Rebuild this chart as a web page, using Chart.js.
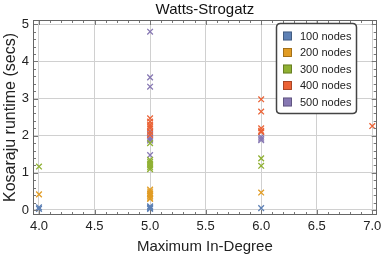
<!DOCTYPE html>
<html><head><meta charset="utf-8">
<script src="https://cdn.jsdelivr.net/npm/chart.js@4/dist/chart.umd.min.js"></script>
<style>html,body{margin:0;padding:0;background:#fff}#wrap{width:382px;height:257px;position:relative}</style>
</head><body><div id="wrap"><canvas id="c" width="382" height="257"></canvas></div>
<script>
const chartTitle = "Watts-Strogatz";
const xTitle = "Maximum In-Degree";
const yTitle = "Kosaraju runtime (secs)";
const seriesNames = ["100 nodes", "200 nodes", "300 nodes", "400 nodes", "500 nodes"];
const seriesColors = ["#5e81b5", "#e19c24", "#8fb032", "#eb6235", "#8778b3"];
const xTicks = [4.0, 4.5, 5.0, 5.5, 6.0, 6.5, 7.0];
const yTicks = [0, 1, 2, 3, 4, 5];

// [maxInDegree, runtime]
const nodes100 = [[4,0.03],[4,0.07],[5,0.03],[5,0.05],[5,0.07],[5,0.1],[6,0.05]];
const nodes200 = [[4,0.42],[5,0.3],[5,0.33],[5,0.38],[5,0.42],[5,0.45],[5,0.5],[5,0.55],[6,0.47]];
const nodes300 = [[4,1.17],[5,1.1],[5,1.15],[5,1.2],[5,1.25],[5,1.3],[5,1.35],[5,1.8],[6,1.19],[6,1.39]];
const nodes400 = [[5,2.02],[5,2.1],[5,2.2],[5,2.25],[5,2.3],[5,2.38],[5,2.47],[6,2.1],[6,2.13],[6,2.2],[6,2.65],[6,2.98],[7,2.26]];
const nodes500 = [[5,1.48],[5,1.87],[5,1.9],[5,1.95],[5,2.05],[5,2.12],[5,3.32],[5,3.57],[5,4.8],[6,1.88],[6,1.92],[6,1.97]];
const allSeries = [nodes100, nodes200, nodes300, nodes400, nodes500];

const FONT = "'Liberation Sans', Arial, sans-serif";

const framePlugin = {
  id: 'frame',
  afterDraw(chart) {
    const ctx = chart.ctx, a = chart.chartArea;
    const xs = chart.scales.x, ys = chart.scales.y;
    ctx.save();
    ctx.strokeStyle = '#777'; ctx.lineWidth = 1;
    ctx.beginPath();
    for (let i = 0; i <= 30; i++) {
      const v = 4 + i * 0.1;
      const px = Math.round(xs.getPixelForValue(v)) + 0.5;
      const len = (i % 5 === 0) ? 5 : 3;
      ctx.moveTo(px, a.bottom); ctx.lineTo(px, a.bottom - len);
      ctx.moveTo(px, a.top); ctx.lineTo(px, a.top + len);
    }
    for (let i = 0; i <= 25; i++) {
      const v = i * 0.2;
      const py = Math.round(ys.getPixelForValue(v)) + 0.5;
      const len = (i % 5 === 0) ? 5 : 3;
      ctx.moveTo(a.left, py); ctx.lineTo(a.left + len, py);
      ctx.moveTo(a.right, py); ctx.lineTo(a.right - len, py);
    }
    ctx.stroke();
    ctx.strokeStyle = '#666';
    ctx.strokeRect(Math.round(a.left) + 0.5, Math.round(a.top) + 0.5, Math.round(a.right - a.left) - 1, Math.round(a.bottom - a.top) - 1);
    ctx.fillStyle = '#111';
    ctx.font = '15px ' + FONT;
    ctx.textAlign = 'center'; ctx.textBaseline = 'middle';
    ctx.fillText(chartTitle, (a.left + a.right) / 2, 10);
    const bx = 276.5, by = 23.5, bw = 80, bh = 90, r = 4;
    ctx.beginPath();
    ctx.moveTo(bx + r, by); ctx.lineTo(bx + bw - r, by); ctx.quadraticCurveTo(bx + bw, by, bx + bw, by + r);
    ctx.lineTo(bx + bw, by + bh - r); ctx.quadraticCurveTo(bx + bw, by + bh, bx + bw - r, by + bh);
    ctx.lineTo(bx + r, by + bh); ctx.quadraticCurveTo(bx, by + bh, bx, by + bh - r);
    ctx.lineTo(bx, by + r); ctx.quadraticCurveTo(bx, by, bx + r, by);
    ctx.closePath();
    ctx.fillStyle = '#fff'; ctx.fill();
    ctx.strokeStyle = '#444'; ctx.lineWidth = 1.5; ctx.stroke();
    ctx.font = '11px ' + FONT;
    ctx.textAlign = 'left';
    chart.data.datasets.forEach((ds, i) => {
      const cy = 36 + i * 16.5;
      ctx.fillStyle = ds.borderColor;
      ctx.fillRect(283, cy - 4.5, 9, 9);
      ctx.strokeStyle = 'rgba(0,0,0,0.35)'; ctx.lineWidth = 0.8;
      ctx.strokeRect(283.5, cy - 4, 8, 8);
      ctx.fillStyle = '#222';
      ctx.fillText(ds.label, 300, cy + 0.5);
    });
    ctx.restore();
  }
};

new Chart(document.getElementById('c'), {
  type: 'scatter',
  data: {
    datasets: allSeries.map((s, i) => ({
      label: seriesNames[i],
      data: s.map(p => ({x: p[0], y: p[1]})),
      borderColor: seriesColors[i],
      backgroundColor: seriesColors[i],
      pointStyle: 'crossRot',
      pointRadius: 4,
      borderWidth: 1.3
    }))
  },
  options: {
    responsive: false,
    animation: false,
    layout: {padding: {top: 20, right: 4, left: 0, bottom: 0}},
    plugins: {legend: {display: false}, title: {display: false}, tooltip: {enabled: false}},
    scales: {
      x: {
        type: 'linear', min: 3.946, max: 7.04,
        afterBuildTicks: s => { s.ticks = xTicks.map(v => ({value: v})); },
        afterFit: s => { s.height = 42; s.paddingLeft = 0; s.paddingRight = 0; },
        grid: {color: '#d0d0d0', lineWidth: 1, drawTicks: false},
        border: {display: false},
        ticks: {padding: 4, color: '#222', font: {family: FONT, size: 13}, maxRotation: 0,
          callback: v => Number(v).toFixed(1)},
        title: {display: true, text: xTitle, color: '#222', font: {family: FONT, size: 15}, padding: {top: 0, bottom: 1}}
      },
      y: {
        type: 'linear', min: -0.135, max: 5.116,
        afterBuildTicks: s => { s.ticks = yTicks.map(v => ({value: v})); },
        afterFit: s => { s.width = 33; s.paddingTop = 0; s.paddingBottom = 0; },
        grid: {color: '#d0d0d0', lineWidth: 1, drawTicks: false},
        border: {display: false},
        ticks: {padding: 4, color: '#222', font: {family: FONT, size: 13},
          callback: v => String(v)},
        title: {display: true, text: yTitle, color: '#222', font: {family: FONT, size: 16}, padding: {top: 1, bottom: 0}}
      }
    }
  },
  plugins: [framePlugin]
});
</script></body></html>
